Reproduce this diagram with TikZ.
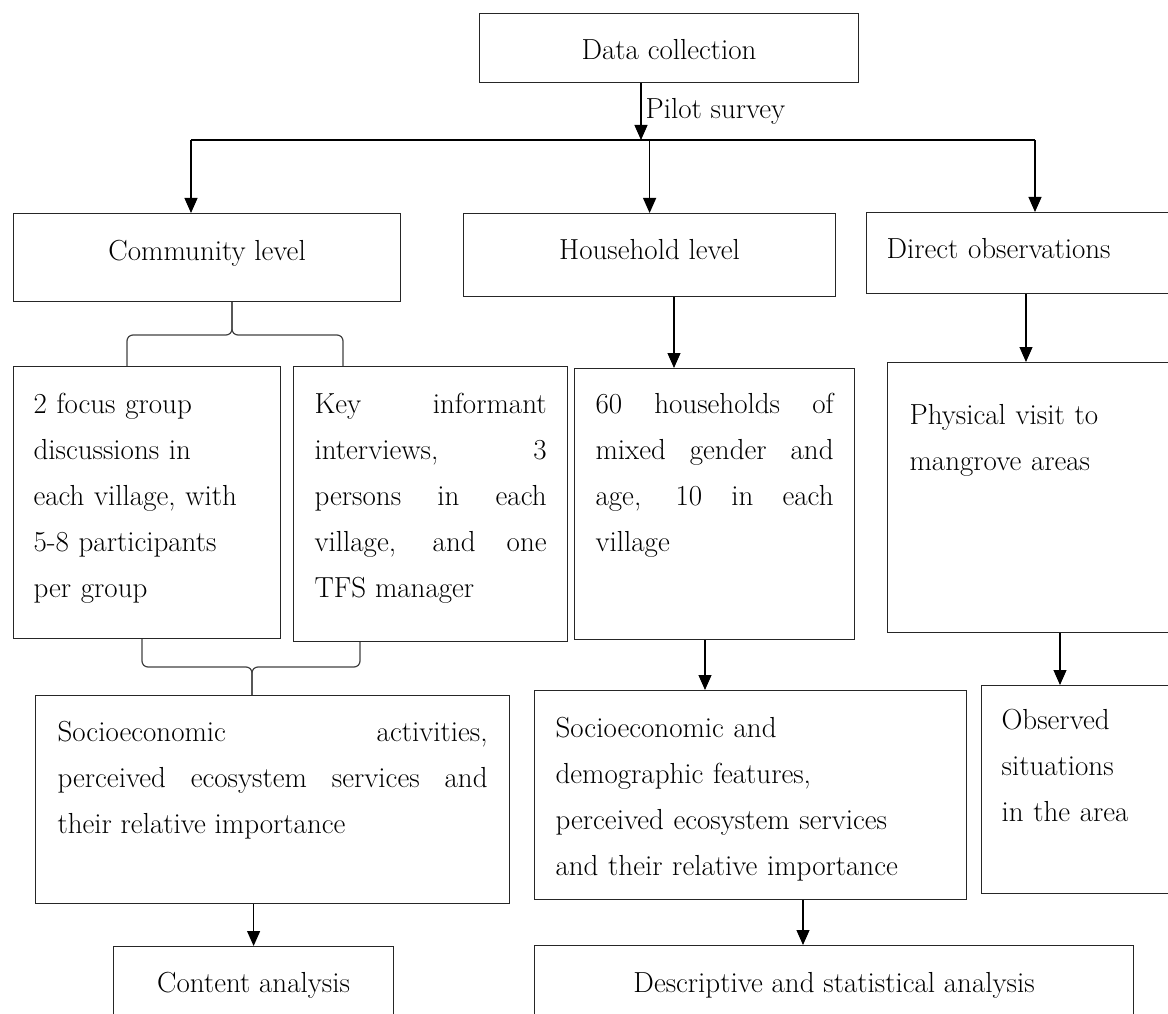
\documentclass[tikz,border=0pt]{standalone}
\usepackage{tikz}
\usetikzlibrary{arrows.meta,calc}

\begin{document}
\begin{tikzpicture}[x=1pt,y=-1pt,>={Triangle[length=15pt,width=13pt]},
  every node/.style={font=\fontsize{29}{46}\selectfont},
  box/.style={draw=black!85,line width=1.2pt,inner ysep=0pt,anchor=north west},
  conn/.style={line width=1.1pt},
  brace/.style={draw=black!75,line width=1.2pt,rounded corners=6pt}]
  \useasboundingbox (0,0) rectangle (1168,1014);
  \clip (0,0) rectangle (1168,1014);

  \node[box,minimum width=379pt,text height=46pt,text depth=23pt](dc) at (479,13){Data collection};
  \node[box,minimum width=387pt,text height=47pt,text depth=41pt](com) at (13,213){Community level};
  \node[box,minimum width=372pt,text height=46pt,text depth=37pt](hh) at (463,213){Household level};
  \node[box,text width=290pt,inner xsep=20pt,align=left,text height=46pt,text depth=35pt](dir) at (866,212){Direct observations};
  \node[box,text width=227pt,inner xsep=20pt,align=left,text height=47pt,text depth=225pt](focus) at (13,366)
    {2 focus group\\discussions in\\each village, with\\5-8 participants\\per group};
  \node[box,text width=232pt,inner xsep=21pt,align=justify,text height=47pt,text depth=228pt](key) at (293,366)
    {Key informant\linebreak interviews, 3\linebreak persons in each\linebreak village, and one\linebreak TFS manager};
  \node[box,text width=238pt,inner xsep=21pt,align=justify,text height=45pt,text depth=226pt](hh60) at (574,368)
    {60 households of\linebreak mixed gender and\linebreak age, 10 in each\linebreak village};
  \node[box,text width=270pt,inner xsep=22pt,align=left,text height=62pt,text depth=208pt](phys) at (887,362)
    {Physical visit to\\mangrove areas};
  \node[box,text width=430pt,inner xsep=22pt,align=justify,text height=46pt,text depth=162pt](sact) at (35,695)
    {Socioeconomic activities,\linebreak perceived ecosystem services and\linebreak their relative importance};
  \node[box,text width=390pt,inner xsep=21pt,align=left,text height=47pt,text depth=162pt](sdem) at (534,690)
    {Socioeconomic and\\demographic features,\\perceived ecosystem services\\and their relative importance};
  \node[box,text width=200pt,inner xsep=20pt,align=left,text height=44pt,text depth=164pt](obs) at (981,685)
    {Observed\\situations\\in the area};
  \node[box,minimum width=280pt,text height=46pt,text depth=60pt](cont) at (113,946){Content analysis};
  \node[box,minimum width=599pt,text height=47pt,text depth=60pt](desc) at (534,945){Descriptive and statistical analysis};

  \coordinate (pilot) at (641,140);
  \coordinate (bus-l) at (191,140);
  \coordinate (bus-r) at (1035,140);
  \draw[conn,->] (dc.south -| pilot) -- node[right,inner xsep=4pt](survey){Pilot survey} (pilot);
  \draw[conn] (bus-l) -- (bus-r);
  \draw[conn,->] (bus-l) -- (bus-l |- com.north);
  \draw[conn,->] (hh.north |- bus-l) -- (hh.north);
  \draw[conn,->] (bus-r) -- (bus-r |- dir.north);

  \coordinate (a1) at ($(hh.south west)+(211,0)$);
  \coordinate (a2) at ($(dir.south west)+(160,0)$);
  \coordinate (a3) at ($(hh60.south west)+(131,0)$);
  \coordinate (a4) at ($(phys.south west)+(173,0)$);
  \coordinate (a5) at ($(sdem.south west)+(269,0)$);
  \draw[conn,->] (a1) -- (a1 |- hh60.north);
  \draw[conn,->] (a2) -- (a2 |- phys.north);
  \draw[conn,->] (a3) -- (a3 |- sdem.north);
  \draw[conn,->] (a4) -- (a4 |- obs.north);
  \draw[conn,->] (sact.south -| cont.north) -- (cont.north);
  \draw[conn,->] (a5) -- (a5 |- desc.north);

  \coordinate (bA) at ($(focus.north west)+(114,0)$);
  \coordinate (bB) at ($(key.north west)+(50,0)$);
  \coordinate (bC) at ($(com.south west)+(219,0)$);
  \draw[brace] (bA) -- (bA |- 0,335) -- (bC |- 0,335) -- (bC);
  \draw[brace] (bB) -- (bB |- 0,335) -- (bC |- 0,335) -- (bC);

  \coordinate (bD) at ($(focus.south west)+(129,0)$);
  \coordinate (bE) at ($(key.south west)+(67,0)$);
  \coordinate (bF) at ($(sact.north west)+(217,0)$);
  \draw[brace] (bD) -- (bD |- 0,667) -- (bF |- 0,667) -- (bF);
  \draw[brace] (bE) -- (bE |- 0,667) -- (bF |- 0,667) -- (bF);
\end{tikzpicture}
\end{document}
